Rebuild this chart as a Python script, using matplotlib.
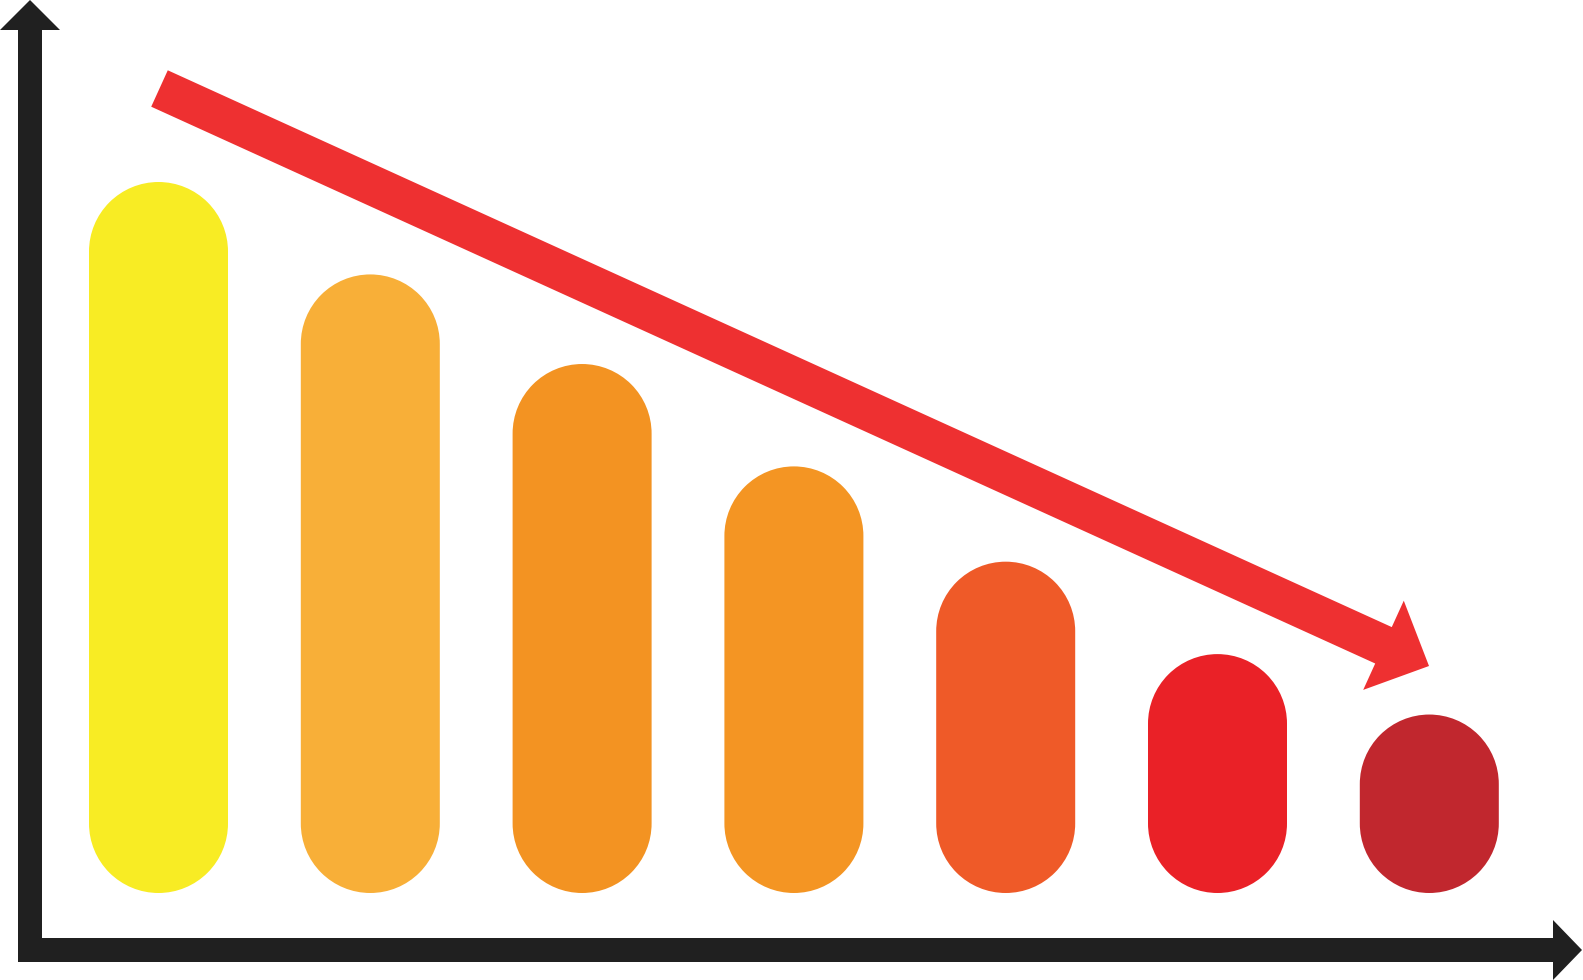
import numpy as np
import matplotlib.pyplot as plt
from matplotlib.patches import PathPatch, FancyArrow
from matplotlib.path import Path

# bar heights (arbitrary units, tallest = 100)
values = [100, 87, 74.4, 60, 46.6, 33.6, 25.1]
colors = ['#F8EC24', '#F8AF38', '#F39322', '#F49523', '#EF5A28', '#EA2127', '#C1272E']

W, H = 1583, 980
fig = plt.figure(figsize=(W / 100, H / 100), dpi=100)
ax = fig.add_axes([0, 0, 1, 1])
ax.set_xlim(0, W)
ax.set_ylim(0, H)
ax.axis('off')

# layout in pixels
base = 87          # bottom of bars
x0 = 158.5         # centre of first bar
step = 211.8
bw = 139
scale = 7.11       # pixels per value unit


def pill(cx, bottom, height, width):
    r = width / 2
    top_arc = Path.arc(0, 180)
    bot_arc = Path.arc(180, 360)
    v1 = top_arc.vertices * r + [cx, bottom + height - r]
    v2 = bot_arc.vertices * r + [cx, bottom + r]
    verts = np.vstack([v1, v2, v1[:1]])
    codes = list(top_arc.codes) + [Path.LINETO] + list(bot_arc.codes[1:]) + [Path.CLOSEPOLY]
    return Path(verts, codes)


for i, (v, c) in enumerate(zip(values, colors)):
    cx = x0 + i * step
    ax.add_patch(PathPatch(pill(cx, base, v * scale, bw), fc=c, ec='none'))

# axes arrows
axis_col = '#202020'
ax.add_patch(FancyArrow(30, 18, 0, H - 18, width=24, head_width=60, head_length=30,
                        length_includes_head=True, fc=axis_col, ec='none'))
ax.add_patch(FancyArrow(18, 30, W - 1 - 18, 0, width=24, head_width=60, head_length=29,
                        length_includes_head=True, fc=axis_col, ec='none'))

# trend arrow
ax.add_patch(FancyArrow(159.5, 891.5, 1269.5, -577.5, width=40, head_width=98,
                        head_length=50, length_includes_head=True,
                        fc='#EE3031', ec='none'))

fig.savefig('out.png', dpi=100, facecolor='white')
